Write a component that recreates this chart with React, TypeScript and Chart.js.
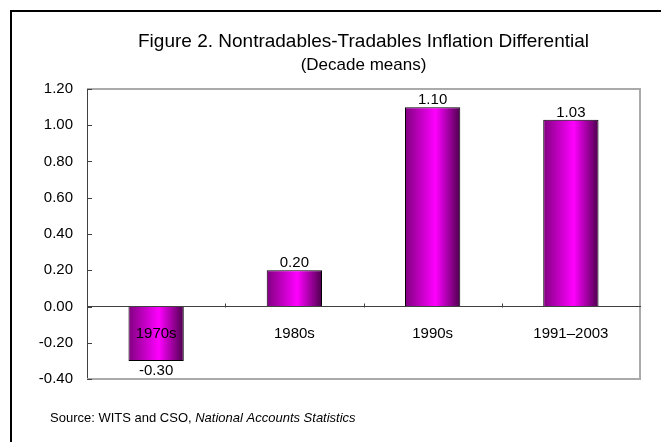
import React, { useEffect, useRef } from "react";
import { Chart, registerables } from "chart.js";

Chart.register(...registerables);

const categories = ["1970s", "1980s", "1990s", "1991\u20132003"];
const values = [-0.3, 0.2, 1.1, 1.03];
const yMin = -0.4;
const yMax = 1.2;
const yStep = 0.2;
const titleText = "Figure 2. Nontradables-Tradables Inflation Differential";
const subtitleText = "(Decade means)";
const sourcePlain = "Source: WITS and CSO, ";
const sourceItalic = "National Accounts Statistics";

const FONT = "'Liberation Sans', Arial, sans-serif";

export default function App() {
  const ref = useRef<HTMLCanvasElement | null>(null);

  useEffect(() => {
    const canvas = ref.current;
    if (!canvas) return;

    const framePlugin = {
      id: "frame",
      beforeDraw(chart: any) {
        const c = chart.ctx;
        c.save();
        c.fillStyle = "#ffffff";
        c.fillRect(0, 0, chart.width, chart.height);
        c.strokeStyle = "#000000";
        c.lineWidth = 2;
        c.strokeRect(11, 11, chart.width + 50, chart.height + 50);
        c.fillStyle = "#000000";
        c.textBaseline = "alphabetic";
        c.textAlign = "left";
        c.font = `13px ${FONT}`;
        c.fillText(sourcePlain, 50, 422);
        const w = c.measureText(sourcePlain).width;
        c.font = `italic 13px ${FONT}`;
        c.fillText(sourceItalic, 50 + w, 422);
        c.restore();
      },
      beforeDatasetsDraw(chart: any) {
        const c = chart.ctx;
        const a = chart.chartArea;
        c.save();
        c.strokeStyle = "#aaaaaa";
        c.lineWidth = 2;
        c.beginPath();
        c.moveTo(a.left, a.top);
        c.lineTo(a.right, a.top);
        c.lineTo(a.right, a.bottom);
        c.lineTo(a.left, a.bottom);
        c.stroke();
        const ys = chart.scales.y;
        c.strokeStyle = "#404040";
        c.lineWidth = 1;
        c.beginPath();
        ys.ticks.forEach((t: any) => {
          const py = Math.round(ys.getPixelForValue(t.value)) + 0.5;
          c.moveTo(a.left, py);
          c.lineTo(a.left + 5, py);
        });
        c.stroke();
        c.restore();
      },
      afterDatasetsDraw(chart: any) {
        const c = chart.ctx;
        const xs = chart.scales.x;
        const ys = chart.scales.y;
        const a = chart.chartArea;
        c.save();
        const zero = Math.round(ys.getPixelForValue(0)) + 0.5;
        const step = xs.getPixelForValue(1) - xs.getPixelForValue(0);
        c.strokeStyle = "#404040";
        c.lineWidth = 1;
        c.beginPath();
        for (let i = 0; i <= categories.length; i++) {
          const px = Math.round(xs.getPixelForValue(i) - step / 2) + 0.5;
          if (px < a.left + 2 || px > a.right - 2) continue;
          c.moveTo(px, zero);
          c.lineTo(px, zero - 4);
        }
        c.stroke();
        c.fillStyle = "#000000";
        c.font = `15px ${FONT}`;
        c.textAlign = "center";
        c.textBaseline = "alphabetic";
        const meta = chart.getDatasetMeta(0);
        meta.data.forEach((bar: any, i: number) => {
          const v = values[i];
          const label = v.toFixed(2);
          if (v >= 0) {
            c.fillText(label, bar.x, bar.y - 3);
          } else {
            c.fillText(label, bar.x, bar.y + 14);
          }
        });
        c.restore();
      },
    };

    const chart = new Chart(canvas, {
      type: "bar",
      data: {
        labels: categories,
        datasets: [
          {
            data: values,
            backgroundColor: (ctx: any) => {
              const ch = ctx.chart;
              const xs = ch.scales && ch.scales.x;
              if (!xs || ctx.dataIndex === undefined) return "#ff00ff";
              const center = xs.getPixelForValue(ctx.dataIndex);
              const w = (xs.width / categories.length) * 0.4;
              if (!isFinite(center) || !isFinite(w) || w <= 0) return "#ff00ff";
              const g = ch.ctx.createLinearGradient(center - w / 2, 0, center + w / 2, 0);
              g.addColorStop(0, "#800080");
              g.addColorStop(0.55, "#ff00ff");
              g.addColorStop(1, "#4d004d");
              return g;
            },
            borderColor: "#000000",
            borderWidth: 1,
            barPercentage: 0.4,
            categoryPercentage: 1,
          },
        ],
      },
      options: {
        responsive: false,
        animation: false,
        layout: { padding: { left: 12, right: 21, top: 0, bottom: 63 } },
        plugins: {
          legend: { display: false },
          tooltip: { enabled: false },
          title: {
            display: true,
            text: titleText,
            fullSize: false,
            color: "#000000",
            font: { family: FONT, size: 19, weight: "normal" },
            padding: { top: 30, bottom: 0 },
          },
          subtitle: {
            display: true,
            text: subtitleText,
            fullSize: false,
            color: "#000000",
            font: { family: FONT, size: 17, weight: "normal" },
            padding: { top: 2, bottom: 13.8 },
          },
        },
        scales: {
          x: {
            position: { y: 0 } as any,
            grid: { display: true, drawOnChartArea: false, drawTicks: false },
            border: { display: true, color: "#404040", width: 1, z: 1 },
            ticks: {
              z: 1,
              color: "#000000",
              font: { family: FONT, size: 15 },
              padding: 18,
              maxRotation: 0,
              autoSkip: false,
            },
          },
          y: {
            min: yMin,
            max: yMax,
            afterFit: (s: any) => {
              s.width = 75;
            },
            grid: { display: true, drawOnChartArea: false, drawTicks: false },
            border: { display: true, color: "#404040", width: 1 },
            ticks: {
              stepSize: yStep,
              color: "#000000",
              font: { family: FONT, size: 15 },
              padding: 14,
              callback: (v: any) => {
                const n = Number(v);
                return (Math.abs(n) < 1e-9 ? 0 : n).toFixed(2);
              },
            },
          },
        },
      },
      plugins: [framePlugin],
    });

    return () => {
      chart.destroy();
    };
  }, []);

  return (
    <div style={{ position: "absolute", left: 0, top: 0, width: 661, height: 442 }}>
      <canvas ref={ref} width={661} height={442} style={{ display: "block" }} />
    </div>
  );
}
